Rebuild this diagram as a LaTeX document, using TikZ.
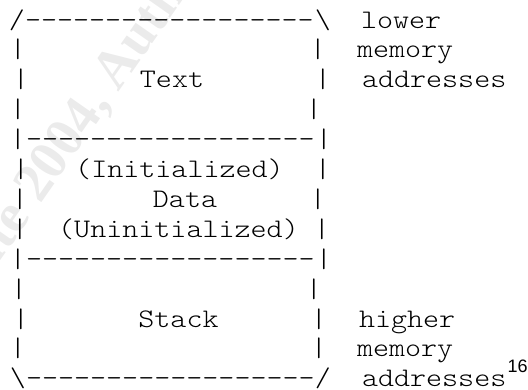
\documentclass[tikz,border=0pt]{standalone}
\usepackage{fontspec}
\newfontfamily\cour{lmmonolt10-regular}[Extension=.otf, Ligatures=TeXOff, FakeStretch=1.14]
\newfontfamily\wmfont{Liberation Serif}
\newfontfamily\supfont{Liberation Sans}
\begin{document}
\begin{tikzpicture}[x=1pt,y=-1pt,
  asc/.style={font=\cour\fontsize{26.8}{30}\selectfont, inner sep=0pt, outer sep=0pt, anchor=base},
  dashrow/.style={asc, anchor=base west},
  lbl/.style={asc, anchor=base west},
  wm/.style={font=\wmfont\bfseries\fontsize{55}{60}\selectfont, text=black!8, inner sep=0pt, rotate=55}]
\useasboundingbox (0,0) rectangle (528,389);
% faint watermark
\coordinate (wmp) at (40,205);
\node[wm, anchor=base east] (wm1) at (wmp) {\textcopyright\ SANS Institute\kern0.25em};
\node[wm, anchor=base west] (wm2) at (wmp) {2004, Author retains full rights.};
% row 1
\node[asc] (l1) at (17,28) {/};
\node[dashrow] (d1) at (25,28) {------------------};
\node[asc] (r1) at (323,28) {\textbackslash};
% rows 2-4
\node[asc] (l2) at (18,57.9) {|};   \node[asc] (r2) at (318,57.9) {|};
\node[asc] (l3) at (21,87.8) {|};   \node[asc] (r3) at (323,87.8) {|};
\node[asc] (l4) at (18,117.7) {|};  \node[asc] (r4) at (314,117.7) {|};
\node[asc] (text) at (172,87.8) {Text};
% row 5
\node[asc] (l5) at (18,147.6) {|};
\node[dashrow] (d5) at (26,147.6) {------------------};
\node[asc] (r5) at (324,147.6) {|};
% rows 6-8
\node[asc] (l6) at (21,177.5) {|};  \node[asc] (r6) at (323,177.5) {|};
\node[asc] (l7) at (20,207.4) {|};  \node[asc] (r7) at (318,207.4) {|};
\node[asc] (l8) at (20,237.3) {|};  \node[asc] (r8) at (322,237.3) {|};
\node[asc] (init) at (179.5,177.5) {(Initialized)};
\node[asc] (data) at (185,207.4) {Data};
\node[asc] (uninit) at (178.5,237.3) {(Uninitialized)};
% row 9
\node[asc] (l9) at (18,267.2) {|};
\node[dashrow] (d9) at (26,267.2) {------------------};
\node[asc] (r9) at (324,267.2) {|};
% rows 10-12
\node[asc] (l10) at (19,297.1) {|}; \node[asc] (r10) at (314,297.1) {|};
\node[asc] (l11) at (21,327) {|};   \node[asc] (r11) at (319,327) {|};
\node[asc] (l12) at (18,356.9) {|}; \node[asc] (r12) at (319,356.9) {|};
\node[asc] (stack) at (178.5,327) {Stack};
% row 13
\node[asc] (l13) at (18,386.8) {\textbackslash};
\node[dashrow] (d13) at (26,386.8) {------------------};
\node[asc] (r13) at (323,386.8) {/};
% labels
\node[lbl] (lower) at (361,28) {lower};
\node[lbl] (mem1) at (357,57.9) {memory};
\node[lbl] (addr1) at (362,87.8) {addresses};
\node[lbl] (higher) at (359,327) {higher};
\node[lbl] (mem2) at (357,356.9) {memory};
\node[lbl] (addr2) at (362,386.8) {addresses};
\node[font=\supfont\fontsize{18}{20}\selectfont, inner sep=0pt, anchor=base west] (fn) at (addr2.base east) [xshift=1pt, yshift=14pt] {16};
\end{tikzpicture}
\end{document}
